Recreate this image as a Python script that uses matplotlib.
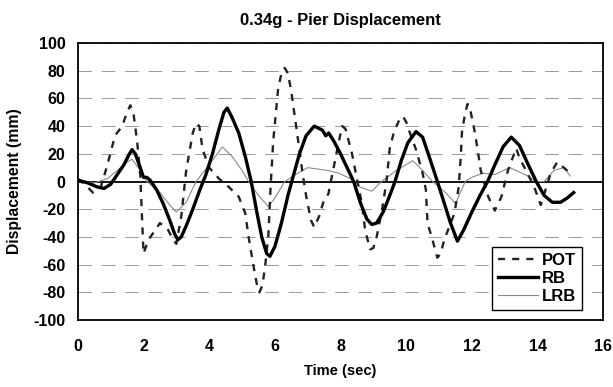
import numpy as np
import matplotlib.pyplot as plt

plt.rcParams['font.family'] = ['Liberation Sans', 'DejaVu Sans']
plt.rcParams['font.weight'] = 'bold'
plt.rcParams['axes.unicode_minus'] = False

# time history samples (sec, mm)
pot_t = [0.0, 0.25, 0.46, 0.7, 0.9, 1.13, 1.35, 1.5, 1.6, 1.7, 1.8, 1.9, 2.0, 2.15,
         2.3, 2.5, 2.75, 2.9, 3.0, 3.15, 3.3, 3.5, 3.6, 3.7, 3.8, 4.0, 4.3, 4.6,
         4.9, 5.1, 5.2, 5.35, 5.45, 5.53, 5.62, 5.7, 5.8, 5.87, 5.95, 6.1, 6.2,
         6.3, 6.4, 6.5, 6.66, 6.85, 6.95, 7.1, 7.2, 7.35, 7.5, 7.63, 7.95, 8.05,
         8.15, 8.35, 8.55, 8.65, 8.75, 8.9, 9.0, 9.1, 9.26, 9.4, 9.5, 9.63, 9.8,
         9.9, 10.0, 10.1, 10.3, 10.5, 10.6, 10.65, 10.8, 10.95, 11.05, 11.16,
         11.47, 11.6, 11.66, 11.7, 11.8, 11.87, 11.95, 12.07, 12.17, 12.27, 12.5,
         12.7, 12.9, 13.1, 13.35, 13.45, 13.65, 13.9, 14.1, 14.4, 14.6, 14.8,
         15.0]
pot_d = [2, -3, -8, -4, 12, 33, 40, 50, 55, 48, 30, 5, -52, -42,
         -37, -30, -35, -42, -45, -25, 8, 35, 42, 40, 23, 10, 2, -4,
         -11, -23, -40, -61, -74, -80, -75, -62, -40, -4, 29, 67, 78,
         82, 78, 65, 38, 5, -10, -28, -33, -25, -13, -9, 29, 40,
         38, 20, -4, -16, -35, -49, -48, -40, -21, 0, 24, 36, 45,
         47, 43, 36, 23, 6, -6, -30, -42, -55, -52, -42,
         -23, -4, 17, 36, 50, 56, 52, 38, 24, 8, -11,
         -21, -11, 8, 24, 17, 8, -4, -17, 6, 14, 10,
         6]

rb_t = [0.0, 0.3, 0.6, 0.8, 1.0, 1.2, 1.4, 1.55, 1.65, 1.75, 1.9, 2.0, 2.1, 2.2,
        2.4, 2.6, 2.8, 2.95, 3.05, 3.15, 3.3, 3.5, 3.7, 3.9, 4.1, 4.3, 4.45, 4.55,
        4.7, 4.9, 5.1, 5.28, 5.45, 5.6, 5.75, 5.85, 6.0, 6.2, 6.4, 6.55, 6.75,
        6.95, 7.2, 7.45, 7.55, 7.64, 7.8, 8.0, 8.2, 8.4, 8.6, 8.8, 8.95, 9.1,
        9.3, 9.5, 9.66, 9.85, 10.05, 10.3, 10.5, 10.7, 10.95, 11.15, 11.35,
        11.56, 11.75, 12.0, 12.25, 12.48, 12.7, 12.95, 13.2, 13.45, 13.7, 13.96,
        14.2, 14.45, 14.7, 14.9, 15.1]
rb_d = [1, -1, -4, -5, -2, 5, 12, 19, 23, 20, 10, 3, 3, 1,
        -6, -16, -28, -38, -42, -40, -32, -20, -7, 5, 20, 38, 50, 53,
        46, 35, 18, 0, -22, -40, -52, -54, -47, -30, -10, 3, 20,
        33, 40, 37, 33, 35, 29, 20, 10, 0, -15, -27, -31, -30,
        -22, -10, 0, 15, 28, 36, 32, 18, 0, -15, -30,
        -43, -35, -22, -10, 0, 12, 25, 32, 26, 13, 0,
        -10, -15, -15, -12, -8]

lrb_t = [0.0, 0.5, 0.9, 1.2, 1.5, 1.65, 1.9, 2.1, 2.5, 2.8, 3.0, 3.3, 3.6, 4.0,
         4.4, 4.7, 5.0, 5.2, 5.5, 5.8, 6.0, 6.3, 6.7, 7.0, 7.3, 7.6, 7.95, 8.3,
         8.6, 8.95, 9.25, 9.7, 10.2, 10.5, 10.8, 11.2, 11.5, 11.8, 12.0, 12.33,
         12.7, 13.15, 13.35, 13.7, 13.96, 14.2, 14.5, 14.8, 15.0]
lrb_d = [1, -1, 2, 8, 14, 16, 8, 0, -8, -17, -22, -15, 0, 12,
         25, 18, 8, 0, -10, -18, -12, 0, 6, 10, 9, 8, 6, 2,
         -4, -7, 0, 8, 15, 8, 0, -8, -16, 0, 3, 6,
         5, 10, 8, 4, 0, 0, 8, 10, 4]

y_ticks = list(range(-100, 101, 20))
x_ticks = list(range(0, 17, 2))

fig = plt.figure(figsize=(6.13, 3.87), dpi=100)
ax = fig.add_axes([0.127, 0.173, 0.857, 0.716])

for y in y_ticks:
    if y != 0:
        ax.axhline(y, color='#999999', lw=0.7, ls=(0, (14, 10)), zorder=0)
ax.axhline(0, color='black', lw=1.3, zorder=1)

ax.plot(pot_t, pot_d, color='#222222', lw=1.7, ls=(0, (3, 3)), label='POT', zorder=3)
ax.plot(rb_t, rb_d, color='black', lw=2.4, label='RB', zorder=4)
ax.plot(lrb_t, lrb_d, color='#8a8a8a', lw=0.8, label='LRB', zorder=2)

ax.set_xlim(0, 16)
ax.set_ylim(-100, 100)
ax.set_xticks(x_ticks)
ax.set_yticks(y_ticks)
ax.tick_params(length=0, labelsize=11.5)
ax.tick_params(axis='y', pad=9)
ax.tick_params(axis='x', pad=14)
for lab in ax.get_xticklabels() + ax.get_yticklabels():
    lab.set_fontweight('bold')
for sp in ax.spines.values():
    sp.set_linewidth(1.3)

ax.set_title('0.34g - Pier Displacement', fontsize=12, fontweight='bold', pad=13)
ax.set_xlabel('Time (sec)', fontsize=10.5, fontweight='bold', labelpad=7)
ax.set_ylabel('Displacement (mm)', fontsize=11.3, fontweight='bold', labelpad=8)

leg = ax.legend(loc='lower right', bbox_to_anchor=(0.96, 0.036), fancybox=False,
                framealpha=1, edgecolor='black', fontsize=12, handlelength=2.4,
                handletextpad=0.25, borderpad=0.35, labelspacing=0.2,
                borderaxespad=0)
leg.get_frame().set_linewidth(1.0)
for txt in leg.get_texts():
    txt.set_fontweight('bold')

fig.savefig('out.png', dpi=100)
